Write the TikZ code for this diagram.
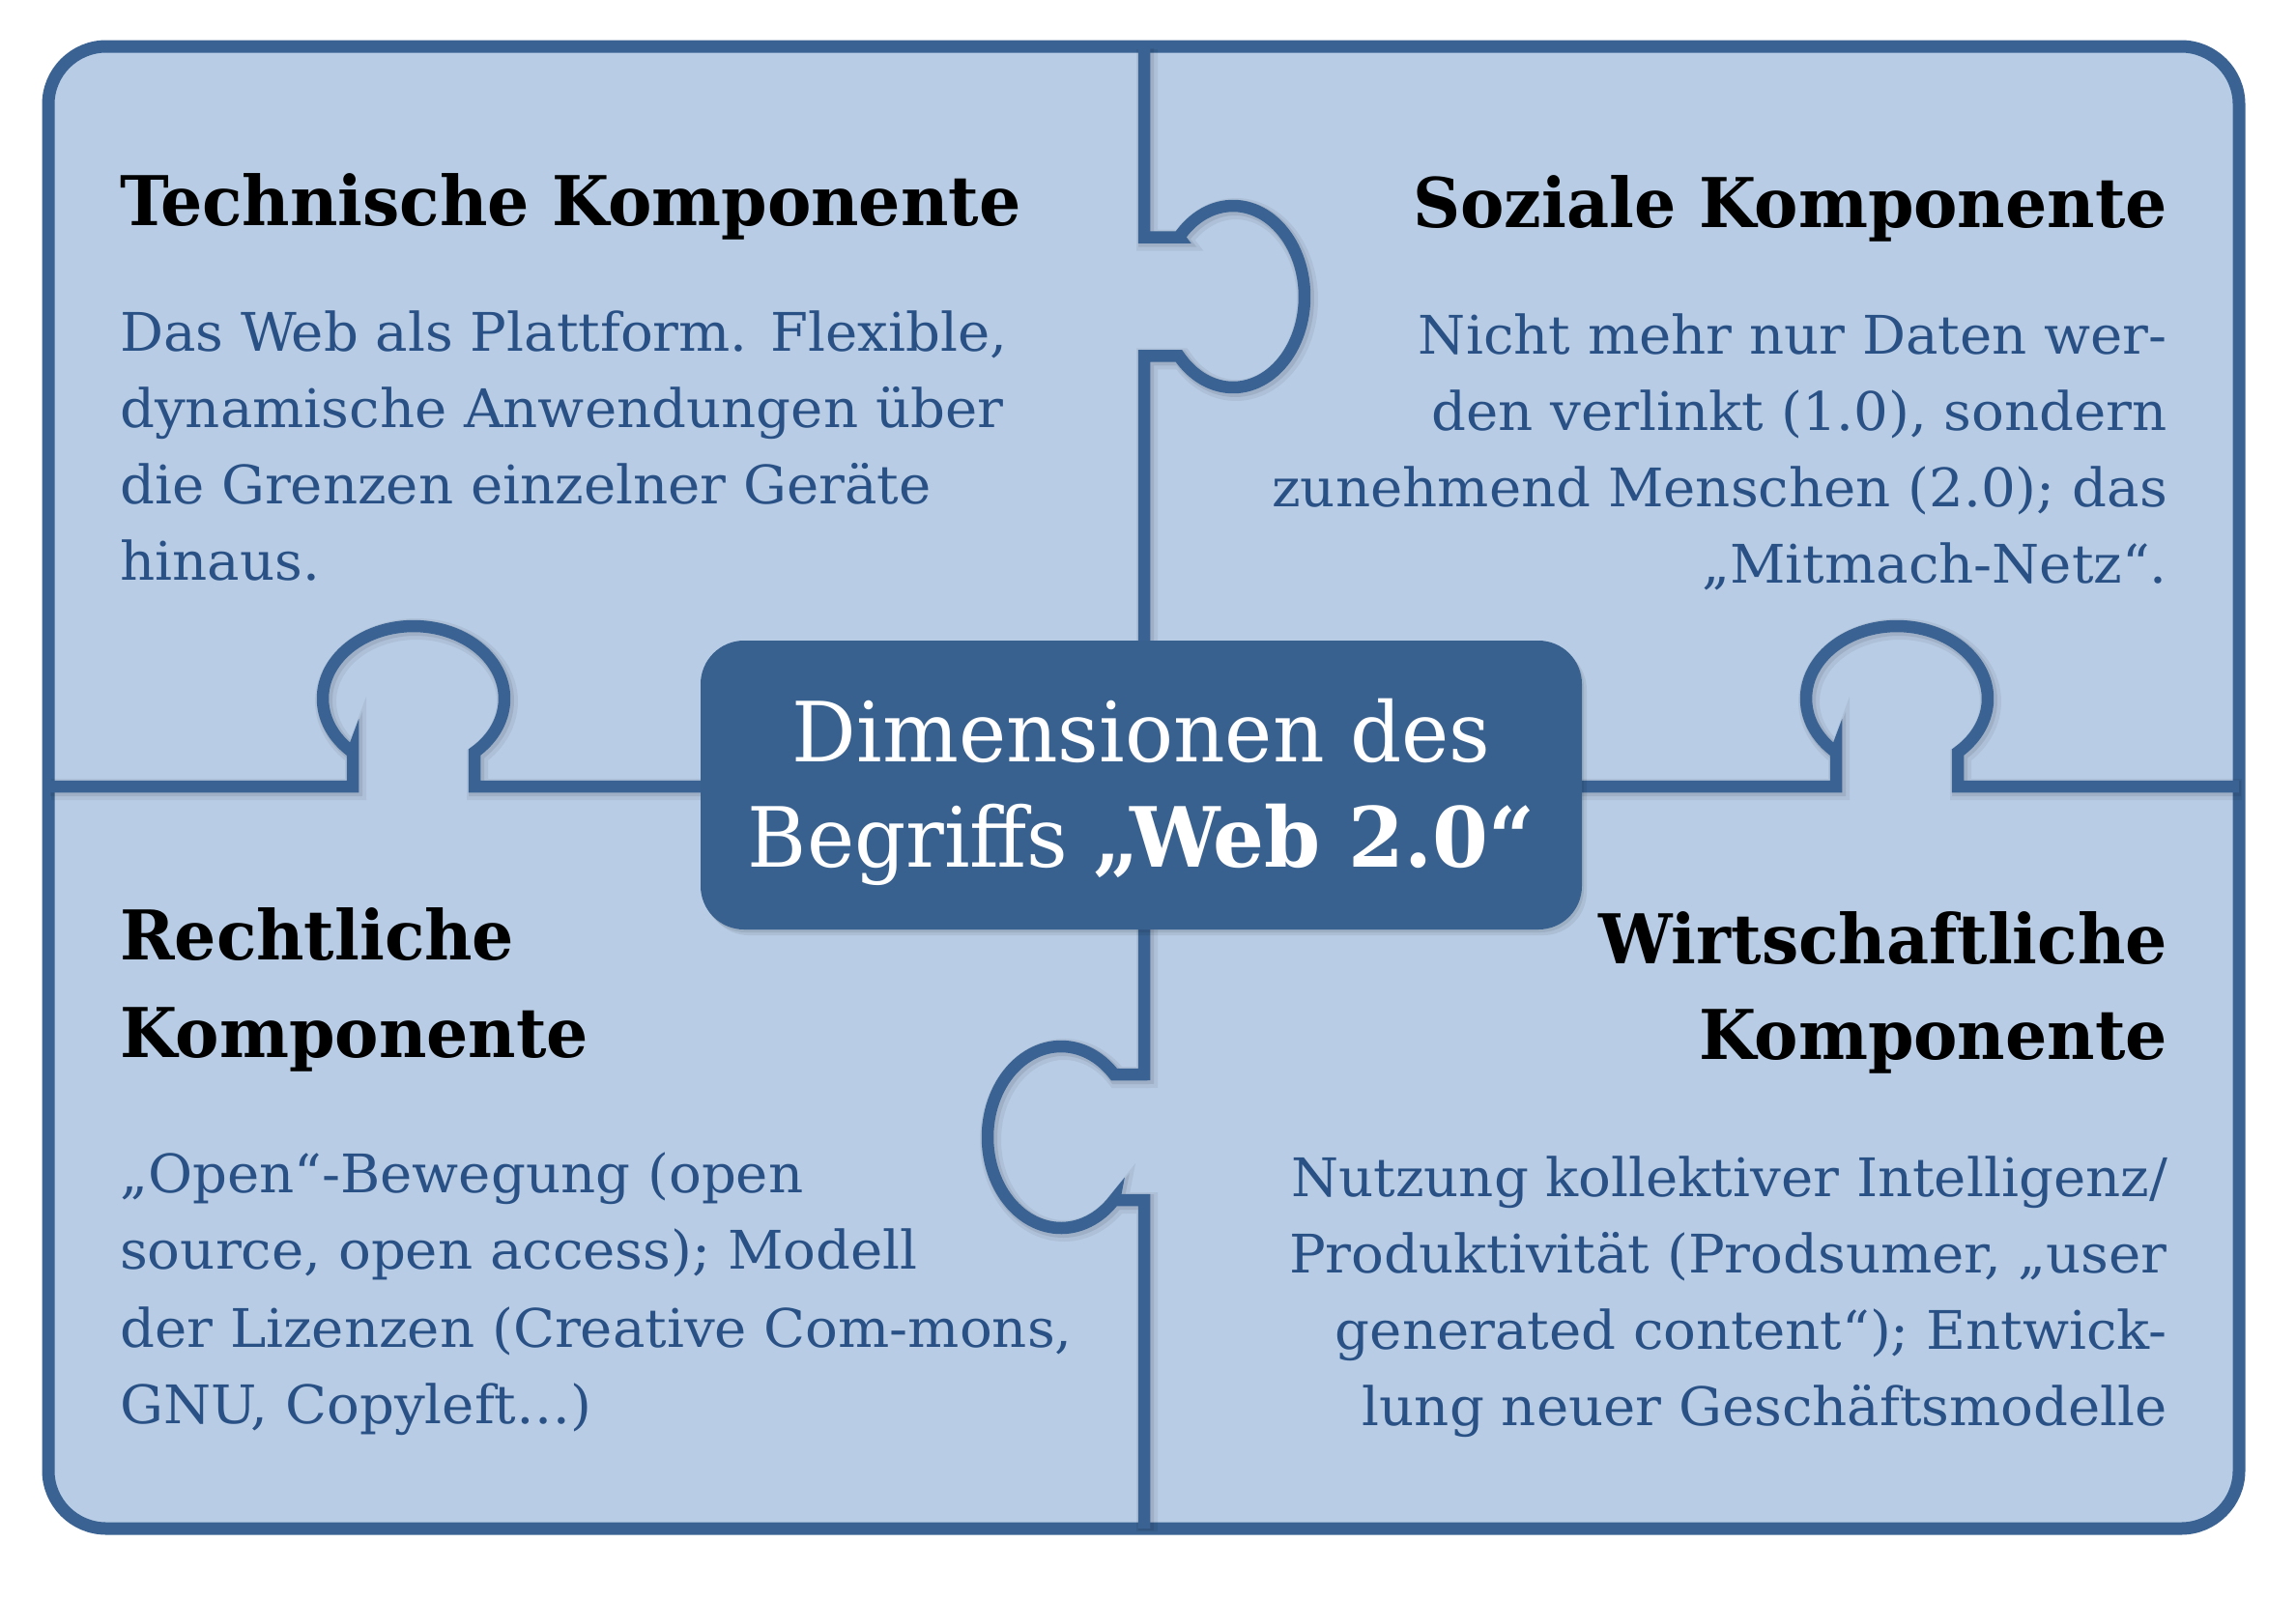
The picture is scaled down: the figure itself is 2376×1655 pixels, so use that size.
\documentclass[tikz,border=0pt]{standalone}
\usepackage{fontspec}
\IfFontExistsTF{DejaVu Serif Condensed}{%
  \setmainfont{DejaVu Serif Condensed}%
  \newfontfamily\bodyfam{DejaVu Serif Condensed}[FakeStretch=1.135]%
  \newfontfamily\headfam{DejaVu Serif Condensed}[FakeStretch=1.065]%
  \newfontfamily\corefam{DejaVu Serif Condensed}[FakeStretch=1.075]%
}{%
  \setmainfont{DejaVu Serif}%
  \newfontfamily\bodyfam{DejaVu Serif}[FakeStretch=1.02]%
  \newfontfamily\headfam{DejaVu Serif}[FakeStretch=0.96]%
  \newfontfamily\corefam{DejaVu Serif}[FakeStretch=0.97]%
}
\definecolor{frameblue}{HTML}{3A6393}
\definecolor{fillblue}{HTML}{B8CDE5}
\definecolor{boxblue}{HTML}{39618F}
\definecolor{textblue}{HTML}{2A5185}
\begin{document}
\begin{tikzpicture}[x=1pt,y=-1pt,
  frame/.style={draw=frameblue, fill=fillblue, line width=13pt, rounded corners=60pt},
  puzzle/.style={draw=frameblue, line width=12.5pt, line join=miter,
    preaction={draw=black, opacity=0.06, line width=22pt, transform canvas={xshift=3pt,yshift=-3pt}},
    preaction={draw=black, opacity=0.08, line width=16pt, transform canvas={xshift=2pt,yshift=-2pt}}},
  corebox/.style={fill=boxblue, rounded corners=45pt, minimum width=912pt, minimum height=299pt, inner sep=0pt,
    preaction={fill=black, opacity=0.07, transform canvas={xshift=5pt,yshift=-6pt}},
    preaction={fill=black, opacity=0.08, transform canvas={xshift=2pt,yshift=-3pt}}},
  headtext/.style={text=black, font=\headfam\fontsize{71pt}{101pt}\selectfont\bfseries, inner sep=0pt},
  bodytext/.style={text=textblue, font=\bodyfam\fontsize{55pt}{79pt}\selectfont, inner sep=0pt},
  coretext/.style={text=white, font=\corefam\fontsize{86pt}{109pt}\selectfont, inner sep=0pt}
]
\useasboundingbox (0,0) rectangle (2376,1655);
\fill[white] (0,0) rectangle (2376,1655);
% outer frame
\draw[frame] (50,48) rectangle (2317,1582);
% top divider with knob to the right
\draw[puzzle] (1184,48) -- (1184,245.6) -- (1220,245.6)
  -- plot[domain=220.8:499.2, samples=90] ({1276+74*cos(\x)},{307+94*sin(\x)})
  -- (1184,368.4) -- (1184,700);
% bottom divider with knob to the left
\draw[puzzle] (1184,1582) -- (1184,1242) -- (1153,1242)
  -- plot[domain=43.6:316.4, samples=90] ({1098+76*cos(\x)},{1177+94*sin(\x)})
  -- (1184,1112) -- (1184,930);
% left divider with knob upwards
\draw[puzzle] (50,814) -- (365,814) -- (365,778.6)
  -- plot[domain=132.1:407.9, samples=90] ({428+94*cos(\x)},{723+75*sin(\x)})
  -- (491,814) -- (760,814);
% right divider with knob upwards
\draw[puzzle] (1600,814) -- (1900,814) -- (1900,778.6)
  -- plot[domain=132.1:407.9, samples=90] ({1963+94*cos(\x)},{723+75*sin(\x)})
  -- (2026,814) -- (2317,814);
% central box
\node[corebox] (core) at (1181,812.5) {};
\node[coretext, anchor=base] (core1) at (1181,788) {Dimensionen des};
\node[coretext, anchor=base] (core2) at (1181,897) {Begriffs \textbf{„Web 2.0“}};
% top left
\node[headtext, anchor=base west] (tlh) at (124,233) {Technische Komponente};
\node[bodytext, anchor=base west] (tl1) at (124,363) {Das Web als Plattform. Flexible,};
\node[bodytext, anchor=base west] (tl2) at (124,442) {dynamische Anwendungen über};
\node[bodytext, anchor=base west] (tl3) at (124,521) {die Grenzen einzelner Geräte};
\node[bodytext, anchor=base west] (tl4) at (124,600) {hinaus.};
% top right
\node[headtext, anchor=base east] (trh) at (2243,235) {Soziale Komponente};
\node[bodytext, anchor=base east] (tr1) at (2243,366) {Nicht mehr nur Daten wer-};
\node[bodytext, anchor=base east] (tr2) at (2243,445) {den verlinkt (1.0), sondern};
\node[bodytext, anchor=base east] (tr3) at (2243,524) {zunehmend Menschen (2.0); das};
\node[bodytext, anchor=base east] (tr4) at (2243,603) {„Mitmach-Netz“.};
% bottom left
\node[headtext, anchor=base west] (blh1) at (124,993) {Rechtliche};
\node[headtext, anchor=base west] (blh2) at (124,1094) {Komponente};
\node[bodytext, anchor=base west] (bl1) at (124,1234) {„Open“-Bewegung (open};
\node[bodytext, anchor=base west] (bl2) at (124,1313) {source, open access); Modell};
\node[bodytext, anchor=base west] (bl3) at (124,1394) {der Lizenzen (Creative Com-mons,};
\node[bodytext, anchor=base west] (bl4) at (124,1473) {GNU, Copyleft…)};
% bottom right
\node[headtext, anchor=base east] (brh1) at (2243,997) {Wirtschaftliche};
\node[headtext, anchor=base east] (brh2) at (2243,1096) {Komponente};
\node[bodytext, anchor=base east] (br1) at (2243,1238) {Nutzung kollektiver Intelligenz/};
\node[bodytext, anchor=base east] (br2) at (2243,1317) {Produktivität (Prodsumer, „user};
\node[bodytext, anchor=base east] (br3) at (2243,1396) {generated content“); Entwick-};
\node[bodytext, anchor=base east] (br4) at (2243,1475) {lung neuer Geschäftsmodelle};
\end{tikzpicture}
\end{document}
